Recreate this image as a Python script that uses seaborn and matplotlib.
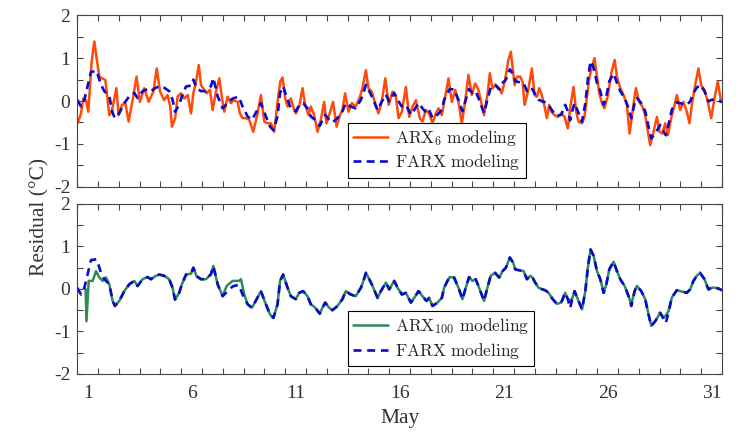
import numpy as np
import matplotlib
matplotlib.use("Agg")
import matplotlib.pyplot as plt
import seaborn as sns

# Residual series, time in days since 1 May 00:00
arx6_t = [0.02, 0.18, 0.29, 0.42, 0.53, 0.69, 0.82, 0.93, 1.06, 1.19, 1.35, 1.54, 1.67, 1.88, 1.99,
          2.15, 2.31, 2.47, 2.69, 2.85, 3.01, 3.22, 3.43, 3.66, 3.82, 3.98, 4.18, 4.34, 4.47, 4.55,
          4.71, 4.82, 4.99, 5.15, 5.31, 5.47, 5.58, 5.71, 5.84, 5.95, 6.11, 6.22, 6.38, 6.51, 6.67,
          6.83, 6.96, 7.07, 7.23, 7.39, 7.50, 7.71, 7.82, 7.95, 8.11, 8.27, 8.46, 8.67, 8.83, 8.99,
          9.15, 9.31, 9.47, 9.63, 9.76, 9.87, 10.00, 10.11, 10.27, 10.43, 10.51, 10.67, 10.83, 10.96,
          11.12, 11.23, 11.39, 11.55, 11.71, 11.87, 11.98, 12.14, 12.30, 12.47, 12.63, 12.75, 12.88,
          13.04, 13.20, 13.39, 13.59, 13.71, 13.88, 14.00, 14.16, 14.32, 14.48, 14.64, 14.81, 14.97,
          15.16, 15.32, 15.45, 15.61, 15.80, 15.96, 16.12, 16.28, 16.47, 16.60, 16.76, 16.92, 17.08,
          17.24, 17.37, 17.53, 17.69, 17.85, 18.01, 18.17, 18.33, 18.49, 18.65, 18.81, 18.97, 19.13,
          19.29, 19.45, 19.56, 19.72, 19.84, 19.96, 20.13, 20.29, 20.41, 20.57, 20.73, 20.85, 21.03,
          21.14, 21.30, 21.41, 21.51, 21.67, 21.86, 21.99, 22.10, 22.21, 22.34, 22.47, 22.58, 22.69,
          22.79, 22.95, 23.11, 23.27, 23.43, 23.59, 23.70, 23.86, 23.99, 24.10, 24.27, 24.39, 24.51,
          24.62, 24.75, 24.87, 24.99, 25.10, 25.23, 25.35, 25.52, 25.68, 25.84, 25.95, 26.11, 26.27,
          26.43, 26.56, 26.70, 26.86, 27.02, 27.18, 27.31, 27.44, 27.55, 27.71, 27.87, 28.00, 28.14,
          28.27, 28.40, 28.56, 28.72, 28.83, 28.99, 29.15, 29.31, 29.44, 29.55, 29.71, 29.87, 30.00,
          30.16, 30.32, 30.48, 30.64, 30.80, 30.96]
arx6_v = [-0.52, -0.29, 0.06, 0.02, -0.25, 0.92, 1.39, 1.00, 0.57, 0.53, 0.49, -0.33, -0.21, 0.30, -0.33,
          -0.09, -0.05, -0.48, 0.10, 0.57, -0.02, 0.30, -0.02, 0.22, 0.76, 0.22, 0.02, 0.14, -0.13, -0.60,
          -0.40, 0.10, 0.18, 0.06, 0.14, -0.29, 0.18, 0.45, 0.84, 0.37, 0.26, 0.18, 0.26, -0.21, 0.22,
          0.53, 0.06, -0.25, 0.10, -0.05, 0.02, -0.02, -0.29, -0.40, -0.40, -0.44, -0.72, -0.29, 0.14, -0.48,
          -0.52, -0.52, -0.72, -0.02, 0.45, 0.55, 0.06, -0.13, 0.06, -0.21, -0.29, -0.13, 0.30, -0.09,
          -0.33, -0.13, -0.33, -0.72, -0.44, -0.02, -0.52, -0.29, -0.02, -0.60, -0.33, -0.21, 0.18,
          -0.25, -0.05, -0.13, 0.10, 0.30, 0.72, 0.30, 0.22, -0.05, -0.29, -0.02, 0.53, -0.09,
          0.22, 0.10, -0.40, -0.25, 0.33, -0.37, -0.13, 0.02, -0.40, -0.48, -0.21, -0.29, -0.52,
          -0.29, -0.17, -0.33, 0.10, 0.53, -0.02, 0.26, -0.02, -0.52, -0.02, 0.61, 0.14, 0.41,
          0.26, -0.09, -0.33, 0.14, 0.65, 0.30, 0.37, 0.30, 0.18, 0.49, 0.96, 1.15, 0.37,
          0.57, 0.57, 0.45, -0.09, 0.22, 0.76, 0.14, 0.10, 0.30, 0.14, -0.13, -0.40, -0.09,
          -0.25, -0.33, -0.37, -0.29, -0.37, -0.64, -0.17, 0.33, -0.25, -0.48, -0.52, -0.37, 0.10,
          0.53, 0.80, 1.00, 0.57, 0.18, -0.05, -0.17, 0.14, 0.65, 0.96, 0.57, 0.30, 0.14,
          -0.09, -0.76, -0.25, 0.30, -0.02, -0.13, -0.33, -0.72, -1.03, -0.72, -0.37, -0.72, -0.76,
          -0.52, -0.79, -0.40, -0.09, 0.14, -0.21, -0.02, -0.25, -0.52, -0.09, 0.37, 0.76, 0.37,
          0.26, -0.02, -0.40, 0.06, 0.45, -0.02]

farx_t = [0.00, 0.18, 0.34, 0.53, 0.66, 0.93, 1.14, 1.30, 1.54, 1.70, 1.81, 2.02, 2.26, 2.50, 2.74,
          2.90, 3.14, 3.38, 3.54, 3.78, 3.94, 4.18, 4.42, 4.58, 4.70, 4.90, 5.03, 5.23, 5.47, 5.58,
          5.74, 5.95, 6.19, 6.43, 6.54, 6.75, 6.99, 7.23, 7.47, 7.76, 7.95, 8.19, 8.40, 8.67, 8.83,
          9.07, 9.27, 9.43, 9.63, 9.75, 9.90, 10.11, 10.27, 10.51, 10.67, 10.86, 11.07, 11.23, 11.44,
          11.66, 11.79, 11.92, 12.11, 12.27, 12.51, 12.75, 12.91, 13.15, 13.39, 13.64, 13.76, 13.88,
          14.04, 14.20, 14.44, 14.60, 14.84, 15.00, 15.24, 15.40, 15.61, 15.80, 16.04, 16.20, 16.41,
          16.60, 16.79, 16.92, 17.08, 17.32, 17.53, 17.64, 17.80, 17.91, 18.12, 18.36, 18.52, 18.68,
          18.84, 19.00, 19.16, 19.32, 19.56, 19.72, 19.88, 20.09, 20.29, 20.45, 20.61, 20.80, 20.96,
          21.06, 21.25, 21.46, 21.62, 21.78, 21.89, 22.02, 22.18, 22.37, 22.50, 22.66, 22.86, 23.06,
          23.27, 23.46, 23.59, 23.70, 23.82, 23.91, 24.07, 24.27, 24.43, 24.55, 24.68, 24.83, 24.99,
          25.15, 25.31, 25.44, 25.58, 25.79, 25.95, 26.11, 26.32, 26.51, 26.64, 26.80, 26.91, 27.12,
          27.31, 27.47, 27.60, 27.79, 28.03, 28.19, 28.30, 28.43, 28.59, 28.83, 29.07, 29.31, 29.47,
          29.63, 29.79, 29.95, 30.16, 30.35, 30.51, 30.67, 30.84, 31.00]
farx_v = [0.03, -0.13, 0.03, 0.42, 0.68, 0.70, 0.38, 0.23, 0.11, -0.28, -0.40, -0.28, -0.05, 0.11, 0.19,
          0.07, 0.23, 0.28, 0.23, 0.31, 0.34, 0.31, 0.23, 0.03, -0.25, -0.09, 0.11, 0.34, 0.36, 0.50,
          0.30, 0.23, 0.23, 0.35, 0.54, 0.11, -0.17, -0.05, 0.06, 0.10, -0.13, -0.36, -0.44, -0.20, -0.05,
          -0.36, -0.60, -0.68, -0.36, 0.19, 0.34, 0.03, -0.17, -0.24, -0.09, -0.05, -0.17, -0.36, -0.44,
          -0.58, -0.44, -0.32, -0.44, -0.50, -0.40, -0.24, -0.05, -0.13, -0.17, 0.03, 0.19, 0.38,
          0.23, 0.07, -0.21, -0.05, 0.15, -0.01, 0.19, 0.03, -0.13, -0.09, -0.32, -0.21, -0.05,
          -0.17, -0.28, -0.21, -0.40, -0.32, -0.21, 0.03, 0.19, 0.28, 0.27, -0.01, -0.24, 0.03,
          0.28, 0.19, 0.23, 0.03, -0.28, 0.03, 0.31, 0.38, 0.27, 0.42, 0.50, 0.74, 0.62,
          0.46, 0.44, 0.42, 0.23, 0.31, 0.27, 0.15, 0.03, -0.01, -0.03, -0.09, -0.24, -0.35,
          -0.32, -0.09, -0.24, -0.45, -0.20, -0.05, -0.24, -0.48, -0.05, 0.50, 0.93, 0.78, 0.42,
          0.23, -0.09, 0.11, 0.46, 0.64, 0.42, 0.23, 0.07, -0.17, -0.40, -0.05, 0.07, -0.05,
          -0.24, -0.60, -0.87, -0.76, -0.56, -0.70, -0.80, -0.55, -0.20, -0.03, -0.06, -0.09, -0.01,
          0.19, 0.31, 0.38, 0.23, -0.01, 0.03, 0.03, 0.01, -0.03]

arx100_t = [0.40, 0.44, 0.55, 0.74, 0.90, 1.06, 1.22, 1.38, 1.54, 1.70, 1.81, 2.02, 2.26, 2.50, 2.74,
            2.90, 3.14, 3.38, 3.54, 3.78, 3.94, 4.18, 4.42, 4.58, 4.70, 4.90, 5.03, 5.23, 5.47, 5.58,
            5.74, 5.95, 6.19, 6.43, 6.54, 6.75, 6.99, 7.18, 7.47, 7.79, 7.87, 8.03, 8.19, 8.40, 8.67,
            8.83, 9.07, 9.27, 9.43, 9.63, 9.75, 9.90, 10.11, 10.27, 10.51, 10.67, 10.86, 11.07, 11.23,
            11.44, 11.66, 11.79, 11.92, 12.11, 12.27, 12.51, 12.75, 12.91, 13.15, 13.39, 13.64, 13.76,
            13.88, 14.04, 14.20, 14.44, 14.60, 14.84, 15.00, 15.24, 15.40, 15.61, 15.80, 16.04, 16.20,
            16.41, 16.60, 16.79, 16.92, 17.08, 17.32, 17.53, 17.64, 17.80, 17.91, 18.12, 18.36, 18.52,
            18.68, 18.84, 19.00, 19.16, 19.32, 19.56, 19.72, 19.88, 20.09, 20.29, 20.45, 20.61, 20.80,
            20.96, 21.06, 21.25, 21.46, 21.62, 21.78, 21.89, 22.02, 22.18, 22.37, 22.50, 22.66, 22.86,
            23.06, 23.27, 23.46, 23.59, 23.70, 23.82, 23.91, 24.07, 24.27, 24.43, 24.55, 24.68, 24.83,
            24.99, 25.15, 25.31, 25.44, 25.58, 25.79, 25.95, 26.11, 26.32, 26.51, 26.64, 26.80, 26.91,
            27.12, 27.31, 27.47, 27.60, 27.79, 28.03, 28.19, 28.30, 28.43, 28.59, 28.83, 29.07, 29.31,
            29.47, 29.63, 29.79, 29.95, 30.16, 30.35, 30.51, 30.67, 30.84, 31.00]
arx100_v = [0.00, -0.76, 0.19, 0.19, 0.42, 0.27, 0.19, 0.27, 0.11, -0.28, -0.40, -0.28, -0.05, 0.11, 0.19,
            0.07, 0.23, 0.28, 0.23, 0.31, 0.34, 0.31, 0.23, 0.03, -0.25, -0.09, 0.11, 0.34, 0.36, 0.50,
            0.30, 0.23, 0.23, 0.35, 0.54, 0.11, -0.17, 0.07, 0.19, 0.19, 0.23, -0.13, -0.36, -0.44, -0.20,
            -0.05, -0.36, -0.60, -0.68, -0.36, 0.19, 0.34, 0.03, -0.17, -0.24, -0.09, -0.05, -0.17, -0.36,
            -0.44, -0.58, -0.44, -0.32, -0.44, -0.50, -0.40, -0.24, -0.05, -0.13, -0.17, 0.03, 0.19,
            0.38, 0.23, 0.07, -0.21, -0.05, 0.15, -0.01, 0.19, 0.03, -0.13, -0.09, -0.32, -0.21,
            -0.05, -0.17, -0.28, -0.21, -0.40, -0.32, -0.21, 0.03, 0.19, 0.28, 0.27, -0.01, -0.24,
            0.03, 0.28, 0.19, 0.23, 0.03, -0.28, 0.03, 0.31, 0.38, 0.27, 0.42, 0.50, 0.74,
            0.62, 0.46, 0.44, 0.42, 0.23, 0.31, 0.27, 0.15, 0.03, -0.01, -0.03, -0.09, -0.24,
            -0.35, -0.32, -0.09, -0.24, -0.28, -0.20, -0.05, -0.24, -0.48, -0.05, 0.50, 0.93, 0.78,
            0.42, 0.23, -0.09, 0.11, 0.46, 0.64, 0.42, 0.23, 0.07, -0.17, -0.36, -0.05, 0.07,
            -0.05, -0.24, -0.60, -0.87, -0.76, -0.56, -0.68, -0.62, -0.52, -0.20, -0.03, -0.06, -0.09,
            -0.01, 0.19, 0.31, 0.38, 0.23, -0.01, 0.03, 0.03, 0.01, -0.03]

day_labels = ["1", "6", "11", "16", "21", "26", "31"]

sns.set_style("ticks")
plt.rcParams["font.family"] = ["Liberation Serif", "DejaVu Serif"]
plt.rcParams["mathtext.fontset"] = "cm"
plt.rcParams["axes.unicode_minus"] = False

text_c = "#333333"
orange = "#ff4a0a"
blue = "#0a0acc"
green = "#2e8b57"

fig = plt.figure(figsize=(7.41, 4.33), dpi=100)
ax1 = fig.add_axes([0.1043, 0.5688, 0.870, 0.3958])
ax2 = fig.add_axes([0.1043, 0.1363, 0.870, 0.3926])

sns.lineplot(x=arx6_t, y=arx6_v, ax=ax1, color=orange, lw=1.8,
             label=r"$\mathrm{ARX}_{6}\ \mathrm{modeling}$", errorbar=None)
sns.lineplot(x=farx_t, y=farx_v, ax=ax1, color=blue, lw=1.9, linestyle=(0, (3, 2)),
             label=r"$\mathrm{FARX\ modeling}$", errorbar=None)

sns.lineplot(x=arx100_t, y=arx100_v, ax=ax2, color=green, lw=1.8,
             label=r"$\mathrm{ARX}_{100}\ \mathrm{modeling}$", errorbar=None)
sns.lineplot(x=farx_t, y=farx_v, ax=ax2, color=blue, lw=1.9, linestyle=(0, (3, 2.2)),
             label=r"$\mathrm{FARX\ modeling}$", errorbar=None)

label_pos = [int(d) - 0.5 for d in day_labels]
for ax in (ax1, ax2):
    ax.set_xlim(0, 31)
    ax.set_ylim(-2, 2)
    ax.set_yticks([-2, -1, 0, 1, 2])
    ax.set_yticks(np.arange(-2, 2.01, 0.5), minor=True)
    ax.set_xticks(label_pos)
    ax.set_xticks(np.arange(0, 32), minor=True)
    ax.tick_params(axis="both", which="both", direction="in", top=True, right=True,
                   length=4, width=0.8, color="#444444", labelsize=14, labelcolor=text_c)
    ax.tick_params(axis="x", which="major", length=0, pad=8)
    ax.tick_params(axis="y", which="major", pad=5)
    for s in ax.spines.values():
        s.set_color("#444444")
        s.set_linewidth(0.8)
    ax.set_xlabel("")
    ax.set_ylabel("")

ax1.set_xticklabels([])
ax2.set_xticklabels(day_labels)
ax2.set_xlabel("May", fontsize=15.5, color=text_c, labelpad=5)
fig.text(0.054, 0.499, "Residual (°C)", rotation=90, va="center", ha="center",
         fontsize=15.5, color=text_c)

leg_kw = dict(loc="lower left", fontsize=12.5, frameon=True, fancybox=False, framealpha=1,
              edgecolor="black", handlelength=2.0, handletextpad=0.4, borderpad=0.3,
              labelspacing=0.25, borderaxespad=0)
l1 = ax1.legend(bbox_to_anchor=(0.42, 0.053), **leg_kw)
l2 = ax2.legend(bbox_to_anchor=(0.42, 0.047), **leg_kw)
for lg in (l1, l2):
    lg.get_frame().set_linewidth(0.8)

fig.savefig("out.png", dpi=100)
